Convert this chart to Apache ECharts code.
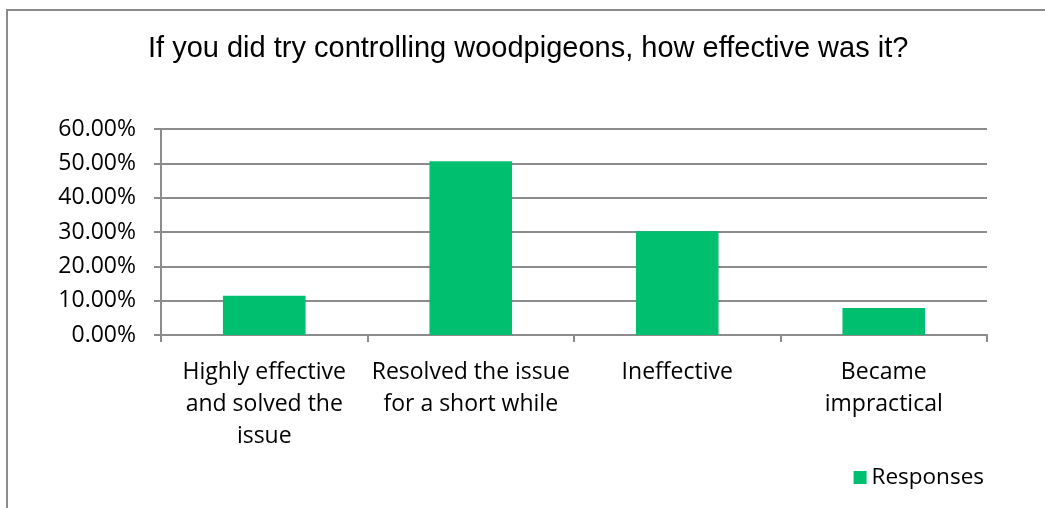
<!DOCTYPE html>
<html>
<head>
<meta charset="utf-8">
<script src="https://cdn.jsdelivr.net/npm/echarts@6/dist/echarts.min.js"></script>
<style>
  html, body { margin: 0; padding: 0; background: #fff; }
  #chart { width: 1045px; height: 508px; }
  .frame {
    position: absolute; left: 6px; top: 9px; width: 1100px; height: 600px;
    border-top: 2px solid #8c8c8c; border-left: 2px solid #8c8c8c;
    pointer-events: none;
  }
</style>
</head>
<body>
<div id="chart"></div>
<div class="frame"></div>
<script>
const titleText = 'If you did try controlling woodpigeons, how effective was it?'
const categories = [
  'Highly effective\nand solved the\nissue',
  'Resolved the issue\nfor a short while',
  'Ineffective',
  'Became\nimpractical'
]
const responses = [11.4, 50.6, 30.2, 7.9]
const yMin = 0
const yMax = 60
const yStep = 10
const seriesName = 'Responses'

const chart = echarts.init(document.getElementById('chart'))
const labelFont = '"Open Sans", "Noto Sans", sans-serif'

chart.setOption({
  animation: false,
  backgroundColor: '#fff',
  title: {
    text: titleText,
    left: 143, top: 29,
    padding: 5,
    textStyle: { fontFamily: '"Liberation Sans", Arial, sans-serif', fontSize: 29, fontWeight: 'normal', color: '#000' }
  },
  legend: {
    data: [seriesName],
    right: 56, top: 461,
    itemWidth: 13, itemHeight: 13, itemGap: 8,
    icon: 'rect',
    textStyle: { fontFamily: labelFont, fontSize: 22.5, color: '#000' }
  },
  grid: { left: 161, right: 58, top: 129, bottom: 173 },
  xAxis: {
    type: 'category',
    data: categories,
    axisLine: { lineStyle: { color: '#8c8c8c', width: 2 } },
    axisTick: { show: true, length: 7, lineStyle: { color: '#8c8c8c', width: 2 } },
    axisLabel: {
      interval: 0, margin: 21,
      fontFamily: labelFont, fontSize: 23, lineHeight: 32, color: '#000'
    }
  },
  yAxis: {
    type: 'value',
    min: yMin, max: yMax, interval: yStep,
    axisLine: { show: true, lineStyle: { color: '#8c8c8c', width: 2 } },
    axisTick: { show: true, length: 7, lineStyle: { color: '#8c8c8c', width: 2 } },
    splitLine: { lineStyle: { color: '#8c8c8c', width: 2 } },
    axisLabel: {
      margin: 25,
      formatter: v => v.toFixed(2) + '%',
      fontFamily: labelFont, fontSize: 23, color: '#000'
    }
  },
  series: [{
    name: seriesName,
    type: 'bar',
    data: responses,
    barWidth: '40%',
    itemStyle: { color: '#00BF6F' }
  }]
})
</script>
</body>
</html>
